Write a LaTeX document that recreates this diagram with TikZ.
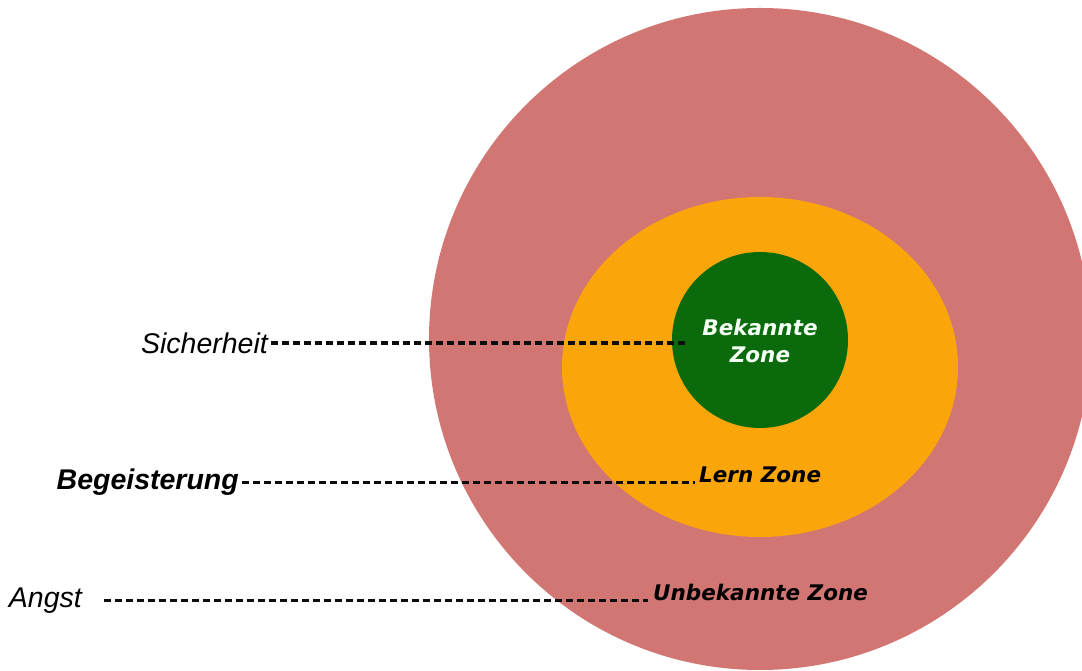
\documentclass[tikz,border=0pt]{standalone}
\usepackage{fontspec}
\setmainfont{Liberation Sans}
\newfontfamily\zonefont{DejaVu Sans}
\definecolor{zoneouter}{RGB}{210,118,116}
\definecolor{zonemid}{RGB}{250,166,10}
\definecolor{zoneinner}{RGB}{11,106,11}
\begin{document}
\begin{tikzpicture}[x=1pt,y=1pt,
  sidelabel/.style={font=\fontsize{28.5}{30}\selectfont\itshape, inner sep=0pt, text=black},
  zonelabel/.style={font=\zonefont\fontsize{21.5}{27}\selectfont\bfseries\itshape, inner sep=0pt},
  guide/.style={draw=black!95, line width=3.4pt, dash pattern=on 7pt off 4pt}]
\useasboundingbox (0,0) rectangle (1082,671);
\clip (0,0) rectangle (1082,671);
\fill[white] (0,0) rectangle (1082,671);

% the three zones
\fill[zoneouter] (760,332) circle[radius=331];
\fill[zonemid] (760,304) ellipse[x radius=198, y radius=170];
\fill[zoneinner] (760,331) circle[radius=88];

% zone names
\node[zonelabel, text=green!4!white, align=center] (known) at (760,330.5) {Bekannte\\Zone};
\node[zonelabel, anchor=base west] (learn) at (699,188.5) {Lern Zone};
\node[zonelabel, anchor=base west] (unknown) at (653,70.5) {Unbekannte Zone};

% feelings on the left
\node[sidelabel, anchor=east] (safe) at (268,328) {Sicherheit};
\node[sidelabel, anchor=east, font=\fontsize{28.5}{30}\selectfont\bfseries\itshape] (joy) at (239,188.5) {Begeisterung};
\node[sidelabel, anchor=east] (fear) at (82,70.5) {Angst};

\coordinate (safeend) at (688,328);

% dashed guides from feeling to zone
\draw[guide, shorten <=3pt] (safe.east) -- (safeend);
\draw[guide, shorten <=3pt, shorten >=4pt] (joy.east) -- (learn.base west);
\draw[guide, shorten <=22pt, shorten >=5pt] (fear.east) -- (unknown.base west);
\end{tikzpicture}
\end{document}
